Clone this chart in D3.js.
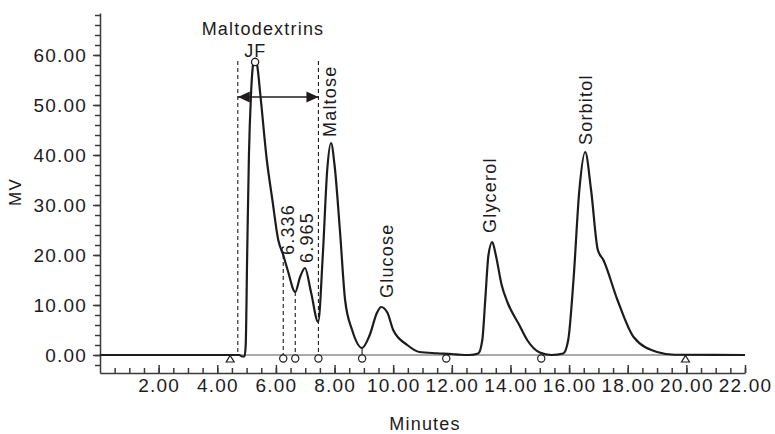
<!DOCTYPE html>
<html>
<head>
<meta charset="utf-8">
<script src="https://cdn.jsdelivr.net/npm/d3@7/dist/d3.min.js"></script>
<style>
  body { margin: 0; background: #fff; }
  svg { display: block; }
  text { font-family: "Liberation Sans", Arial, sans-serif; fill: #1e1b1c; letter-spacing: 1.2px; }
  .axis path, .axis line { stroke: #3a3a3a; stroke-width: 1.5; }
</style>
</head>
<body>
<svg id="chart" width="775" height="434"></svg>
<script>
// Detector trace (minutes, MV)
const times = [0, 4.75, 4.85, 4.93, 4.97, 5.02, 5.08, 5.15, 5.22, 5.29, 5.36, 5.47, 5.69, 5.88, 6.08, 6.25,
  6.4, 6.66, 6.82, 6.99, 7.2, 7.44, 7.6, 7.75, 7.88, 8.0, 8.19, 8.36, 8.6, 8.94, 9.2, 9.45, 9.59, 9.8, 10.0,
  10.48, 10.9, 11.5, 12.0, 12.3, 12.6, 12.9, 13.04, 13.14, 13.25, 13.38, 13.5, 13.7, 13.9, 14.3, 14.57, 15.0,
  15.4, 15.8, 15.97, 16.15, 16.35, 16.55, 16.75, 16.98, 17.17, 17.65, 18.2, 19.0, 19.6, 22];
const signal = [0, 0, -0.3, -0.3, 2, 20, 40, 52, 58, 59.3, 58, 52, 39, 31, 23, 20,
  17, 12.6, 15.5, 17.4, 12.5, 6.6, 20, 37, 42.4, 38, 24.4, 11, 5, 1.4, 4, 8.5, 9.6, 8.5, 5,
  2, 0.6, 0.35, 0.2, 0.05, 0, 0.3, 3, 11, 20, 22.6, 20, 14, 10.5, 6, 3, 0.5,
  0, 0.3, 3, 15, 33, 40.6, 33, 21, 19, 11, 3.6, 0.6, 0.05, 0];

// Axis ticks
const xMajor = d3.range(2, 22.01, 2);
const xMinor = d3.range(0.5, 22.01, 0.5);
const yMajor = d3.range(0, 60.01, 10);
const yMinor = d3.range(-2, 68.01, 2);

// Integration marks
const circleMarks = [6.25, 6.66, 7.45, 8.94, 11.81, 15.05];
const triangleMarks = [4.44, 19.97];
const dashedDrops = [[4.7, 58.8], [7.45, 58.8], [6.25, 20], [6.66, 12.6]];
const solidDrops = [[8.94, 1.4]];
const arrowSpan = [4.7, 7.45, 51.6];
const apexMark = [5.29, 58.6];

// Peak names: [text, minutes, MV] for the start of each label
const rotatedLabels = [
  ['Maltose', 8.05, 43.6],
  ['6.336', 6.62, 20],
  ['6.965', 7.27, 18.4],
  ['Glucose', 9.99, 11.4],
  ['Glycerol', 13.51, 24.4],
  ['Sorbitol', 16.79, 42]
];
const flatLabels = [['Maltodextrins', 5.56, 64], ['JF', 5.3, 59.7]];

const svg = d3.select('#chart');
const x = d3.scaleLinear().domain([0, 22]).range([100, 745]);
const y = d3.scaleLinear().domain([-3.6, 68.4]).range([373, 13]);
const ink = '#1e1b1c';

// axes
const yAxis = svg.append('g').attr('class', 'axis').attr('transform', `translate(${x(0)},0)`);
yAxis.call(d3.axisLeft(y).tickValues(yMinor).tickFormat('').tickSize(5).tickSizeOuter(0));
const yLabels = svg.append('g').attr('class', 'axis').attr('transform', `translate(${x(0)},0)`)
  .call(d3.axisLeft(y).tickValues(yMajor).tickFormat(d3.format('.2f')).tickSize(7).tickPadding(6).tickSizeOuter(0));
yLabels.select('.domain').remove();
yLabels.selectAll('text').attr('font-size', 19).attr('font-family', null).style('fill', ink);

const xAxis = svg.append('g').attr('class', 'axis').attr('transform', `translate(0,${y.range()[0]})`);
xAxis.call(d3.axisBottom(x).tickValues(xMinor).tickFormat('').tickSizeInner(-5).tickSizeOuter(0));
const xLabels = svg.append('g').attr('class', 'axis').attr('transform', `translate(0,${y.range()[0]})`)
  .call(d3.axisBottom(x).tickValues(xMajor).tickFormat(d3.format('.2f')).tickSizeInner(-8).tickPadding(6).tickSizeOuter(0));
xLabels.select('.domain').remove();
xLabels.selectAll('text').attr('font-size', 19).attr('font-family', null).style('fill', ink);

svg.append('text').attr('x', 425).attr('y', 430).attr('text-anchor', 'middle')
  .attr('font-size', 18).text('Minutes');
svg.append('text').attr('transform', 'translate(21,192) rotate(-90)').attr('text-anchor', 'middle')
  .attr('font-size', 17).text('MV');

// zero baseline
svg.append('line')
  .attr('x1', x(0)).attr('x2', x(22)).attr('y1', y(0)).attr('y2', y(0))
  .attr('stroke', '#555').attr('stroke-width', 1);

// drop lines
svg.selectAll('line.dash').data(dashedDrops).join('line').attr('class', 'dash')
  .attr('x1', d => x(d[0])).attr('x2', d => x(d[0]))
  .attr('y1', d => y(d[1])).attr('y2', y(0))
  .attr('stroke', ink).attr('stroke-width', 1.1).attr('stroke-dasharray', '4,3');
svg.selectAll('line.drop').data(solidDrops).join('line').attr('class', 'drop')
  .attr('x1', d => x(d[0])).attr('x2', d => x(d[0]))
  .attr('y1', d => y(d[1])).attr('y2', y(0))
  .attr('stroke', ink).attr('stroke-width', 1.1);

// trace
const line = d3.line().x(d => x(d[0])).y(d => y(d[1])).curve(d3.curveMonotoneX);
svg.append('path').datum(d3.zip(times, signal))
  .attr('d', line).attr('fill', 'none').attr('stroke', ink).attr('stroke-width', 2.2)
  .attr('stroke-linejoin', 'round');

// double arrow
const defs = svg.append('defs');
defs.append('marker').attr('id', 'head').attr('viewBox', '0 0 12 12')
  .attr('refX', 12).attr('refY', 6).attr('markerWidth', 12).attr('markerHeight', 12)
  .attr('markerUnits', 'userSpaceOnUse').attr('orient', 'auto-start-reverse')
  .append('path').attr('d', 'M0,0.5L12,6L0,11.5Z').attr('fill', ink);
svg.append('line')
  .attr('x1', x(arrowSpan[0])).attr('x2', x(arrowSpan[1]))
  .attr('y1', y(arrowSpan[2])).attr('y2', y(arrowSpan[2]))
  .attr('stroke', ink).attr('stroke-width', 1.4)
  .attr('marker-start', 'url(#head)').attr('marker-end', 'url(#head)');

// marks on baseline
svg.selectAll('circle.mark').data(circleMarks).join('circle').attr('class', 'mark')
  .attr('cx', d => x(d)).attr('cy', y(-0.7)).attr('r', 3.6)
  .attr('fill', '#fff').attr('stroke', ink).attr('stroke-width', 1.2);
svg.selectAll('path.tri').data(triangleMarks).join('path').attr('class', 'tri')
  .attr('d', d => `M${x(d)},${y(0) + 0.5}l4,6.5h-8z`)
  .attr('fill', '#fff').attr('stroke', ink).attr('stroke-width', 1.2);
svg.append('circle').attr('cx', x(apexMark[0])).attr('cy', y(apexMark[1])).attr('r', 3.6)
  .attr('fill', '#fff').attr('stroke', ink).attr('stroke-width', 1.3);

// labels
svg.selectAll('text.peak').data(rotatedLabels).join('text').attr('class', 'peak')
  .attr('transform', d => `translate(${x(d[1])},${y(d[2])}) rotate(-90)`)
  .attr('font-size', 18).text(d => d[0]);
svg.selectAll('text.flat').data(flatLabels).join('text').attr('class', 'flat')
  .attr('x', d => x(d[1])).attr('y', d => y(d[2])).attr('text-anchor', 'middle')
  .attr('font-size', 18).text(d => d[0]);
</script>
</body>
</html>
